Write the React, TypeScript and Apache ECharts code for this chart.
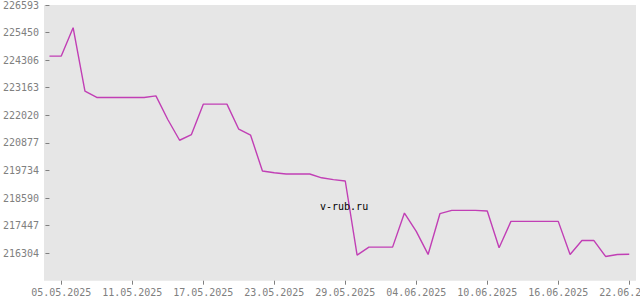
import React, { useEffect, useRef } from "react";
import * as echarts from "echarts";

const dates: string[] = [
  "04.05.2025", "05.05.2025", "06.05.2025", "07.05.2025", "08.05.2025",
  "09.05.2025", "10.05.2025", "11.05.2025", "12.05.2025", "13.05.2025",
  "14.05.2025", "15.05.2025", "16.05.2025", "17.05.2025", "18.05.2025",
  "19.05.2025", "20.05.2025", "21.05.2025", "22.05.2025", "23.05.2025",
  "24.05.2025", "25.05.2025", "26.05.2025", "27.05.2025", "28.05.2025",
  "29.05.2025", "30.05.2025", "31.05.2025", "01.06.2025", "02.06.2025",
  "03.06.2025", "04.06.2025", "05.06.2025", "06.06.2025", "07.06.2025",
  "08.06.2025", "09.06.2025", "10.06.2025", "11.06.2025", "12.06.2025",
  "13.06.2025", "14.06.2025", "15.06.2025", "16.06.2025", "17.06.2025",
  "18.06.2025", "19.06.2025", "20.06.2025", "21.06.2025", "22.06.2025",
];

const values: number[] = [
  224475, 224475, 225651, 223021, 222760,
  222760, 222760, 222760, 222760, 222825,
  221845, 220985, 221222, 222481, 222481,
  222481, 221442, 221193, 219710, 219635,
  219585, 219585, 219585, 219428, 219353,
  219295, 216221, 216553, 216553, 216553,
  217965, 217205, 216250, 217940, 218078,
  218078, 218078, 218050, 216528, 217621,
  217621, 217621, 217621, 217621, 216250,
  216831, 216831, 216167, 216250, 216260,
];

const xTickDates: string[] = [
  "05.05.2025", "11.05.2025", "17.05.2025", "23.05.2025", "29.05.2025",
  "04.06.2025", "10.06.2025", "16.06.2025", "22.06.2025",
];

const yTicks: number[] = [
  216304, 217447, 218590, 219734, 220877, 222020, 223163, 224306, 225450, 226593,
];

const yMin = 215161;
const yMax = 226593;
const watermark = "v-rub.ru";

export default function App() {
  const ref = useRef<HTMLDivElement>(null);
  useEffect(() => {
    if (!ref.current) return;
    const chart = echarts.init(ref.current, null, { renderer: "svg" });
    const font = "'DejaVu Sans Mono', monospace";
    const xTickIdx = xTickDates.map((d) => dates.indexOf(d));
    chart.setOption({
      animation: false,
      backgroundColor: "#ffffff",
      grid: {
        left: 44,
        right: 4,
        top: 5,
        bottom: 19.3,
        show: true,
        backgroundColor: "#e6e6e6",
        borderWidth: 0,
        containLabel: false,
        outerBoundsMode: "none",
      },
      xAxis: {
        type: "value",
        min: -0.46,
        max: 49.57,
        axisLine: { show: false },
        splitLine: { show: false },
        axisTick: {
          show: true,
          length: 4,
          customValues: xTickIdx,
          lineStyle: { color: "#808080", width: 1 },
        },
        axisLabel: {
          customValues: xTickIdx,
          formatter: (v: number) => dates[Math.round(v)] ?? "",
          color: "#808080",
          fontFamily: font,
          fontSize: 10,
          margin: 7,
          hideOverlap: false,
        },
      },
      yAxis: {
        type: "value",
        min: yMin,
        max: yMax,
        axisLine: { show: false },
        splitLine: { show: false },
        axisTick: {
          show: true,
          length: 4,
          customValues: yTicks,
          lineStyle: { color: "#808080", width: 1 },
        },
        axisLabel: {
          customValues: yTicks,
          formatter: (v: number) => String(Math.round(v)),
          color: "#808080",
          fontFamily: font,
          fontSize: 10,
          margin: 5,
        },
      },
      graphic: [
        {
          type: "text",
          left: 320,
          top: 201,
          z: 100,
          style: {
            text: watermark,
            fill: "#000000",
            font: "10px 'DejaVu Sans Mono', monospace",
          },
        },
      ],
      series: [
        {
          type: "line",
          data: values.map((v, i) => [i, v]),
          showSymbol: false,
          symbol: "none",
          lineStyle: { color: "#c13fb5", width: 1.4 },
          z: 2,
        },
      ],
    });
    return () => chart.dispose();
  }, []);
  return (
    <div
      ref={ref}
      style={{ position: "fixed", left: 0, top: 0, width: 640, height: 300 }}
    />
  );
}
